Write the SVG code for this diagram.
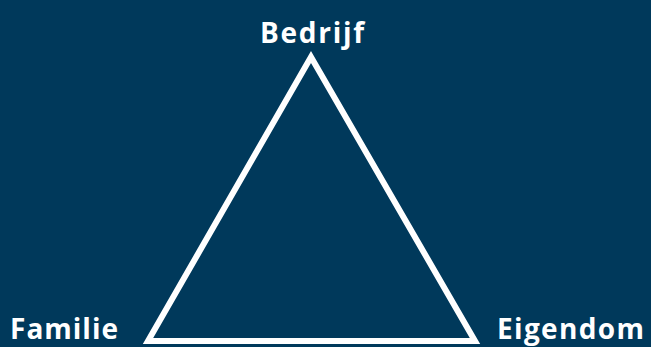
<svg xmlns="http://www.w3.org/2000/svg" width="651" height="347" viewBox="0 0 651 347">
<style>
.lbl{font-family:"Open Sans","Noto Sans","DejaVu Sans",sans-serif;font-weight:bold;font-size:28px;fill:#ffffff}
.edge{fill:none;stroke:#ffffff;stroke-width:6;stroke-linejoin:miter}
</style>
<rect width="651" height="347" fill="#00395b"/>
<g id="connectors">
<polygon class="edge" points="311,57 148,341 475,341"/>
</g>
<g id="bedrijf"><text class="lbl" x="260" y="43" textLength="104" lengthAdjust="spacing">Bedrijf</text></g>
<g id="familie"><text class="lbl" x="10" y="339" textLength="108" lengthAdjust="spacing">Familie</text></g>
<g id="eigendom"><text class="lbl" x="497" y="339" textLength="147" lengthAdjust="spacing">Eigendom</text></g>
</svg>
